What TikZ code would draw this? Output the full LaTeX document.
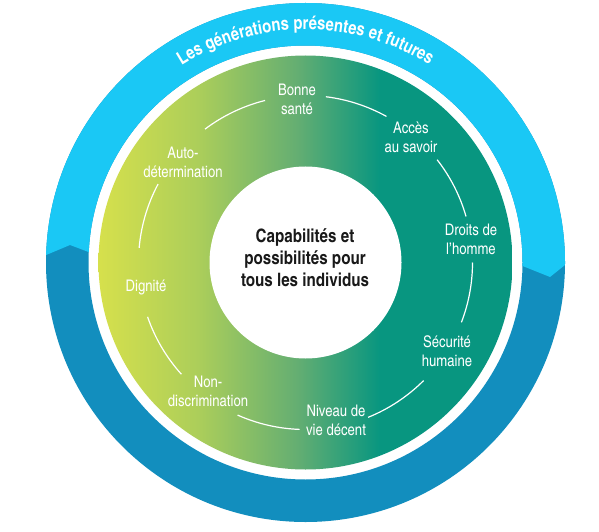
\documentclass[tikz,border=0pt]{standalone}
\usepackage{fontspec}
\usetikzlibrary{decorations.text,calc}
\newfontfamily\cnfont{TeX Gyre Heros Cn}
\definecolor{ringcyan}{RGB}{26,200,245}
\definecolor{ringblue}{RGB}{18,142,190}
\definecolor{gyel}{RGB}{214,224,76}
\definecolor{gmidA}{RGB}{172,206,90}
\definecolor{gmidB}{RGB}{100,174,114}
\definecolor{gteal}{RGB}{8,150,128}
\definecolor{coretext}{RGB}{25,25,25}
\pgfdeclarehorizontalshading{greengrad}{100bp}{color(0bp)=(gyel); color(25bp)=(gyel); color(37bp)=(gmidA); color(49bp)=(gmidB); color(59bp)=(gteal); color(100bp)=(gteal)}
\begin{document}
\begin{tikzpicture}[x=1pt,y=1pt,
  lab/.style={text=white, font=\cnfont\fontsize{16}{19}\selectfont, align=center, inner sep=0pt},
  arcline/.style={white, line width=1.2pt},
  coretxt/.style={text=coretext, font=\cnfont\bfseries\fontsize{18.5}{22}\selectfont, align=center, inner sep=0pt}
]
\useasboundingbox (0,0) rectangle (599,531);
\fill[white] (0,0) rectangle (599,531);
\coordinate (C) at (305.5,268.5);
% outer ring
\fill[ringblue, even odd rule] (C) circle[radius=259.5] (C) circle[radius=217];
\begin{scope}[even odd rule]
\clip (C) circle[radius=259.5] (C) circle[radius=217];
\fill[ringcyan] (0,265) -- (20,265) -- (70,286) -- (115,269) -- (495,276) -- (550,254) -- (575,274) -- (599,274) -- (599,531) -- (0,531) -- cycle;
\end{scope}
\path[decorate, decoration={text along path, text align=center,
  text={|\cnfont\bfseries\fontsize{18.2}{18.2}\selectfont\color{white}|Les générations présentes et futures}}]
  ($(C)+(150:233)$) arc[start angle=150, end angle=30, radius=233];
% gradient disk
\shade[shading=greengrad] (C) circle[radius=207];
\fill[white] (C) circle[radius=96];
\node[coretxt] (core) at (305,273.5) {Capabilités et\\possibilités pour\\tous les individus};
% labels
\node[lab] (bonne) at (297,432) {Bonne\\santé};
\node[lab] (acces) at (411,394) {Accès\\au savoir};
\node[lab] (droits) at (471,292) {Droits de\\l’homme};
\node[lab] (secu) at (447,180) {Sécurité\\humaine};
\node[lab] (niveau) at (336,111) {Niveau de\\vie décent};
\node[lab] (nondis) at (208,140) {Non-\\discrimination};
\node[lab] (dign) at (146,244) {Dignité};
\node[lab] (auto) at (183,369) {Auto-\\détermination};
% arcs between labels
\draw[arcline] ($(C)+(61:167)$) arc[start angle=61, end angle=83, radius=167];
\draw[arcline] ($(C)+(16:167)$) arc[start angle=16, end angle=38, radius=167];
\draw[arcline] ($(C)+(-21:167)$) arc[start angle=-21, end angle=0, radius=167];
\draw[arcline] ($(C)+(-68:167)$) arc[start angle=-68, end angle=-45, radius=167];
\draw[arcline] ($(C)+(-114:167)$) arc[start angle=-114, end angle=-92, radius=167];
\draw[arcline] ($(C)+(-161:167)$) arc[start angle=-161, end angle=-138, radius=167];
\draw[arcline] ($(C)+(152:167)$) arc[start angle=152, end angle=175, radius=167];
\draw[arcline] ($(C)+(104:167)$) arc[start angle=104, end angle=127, radius=167];
\end{tikzpicture}
\end{document}
